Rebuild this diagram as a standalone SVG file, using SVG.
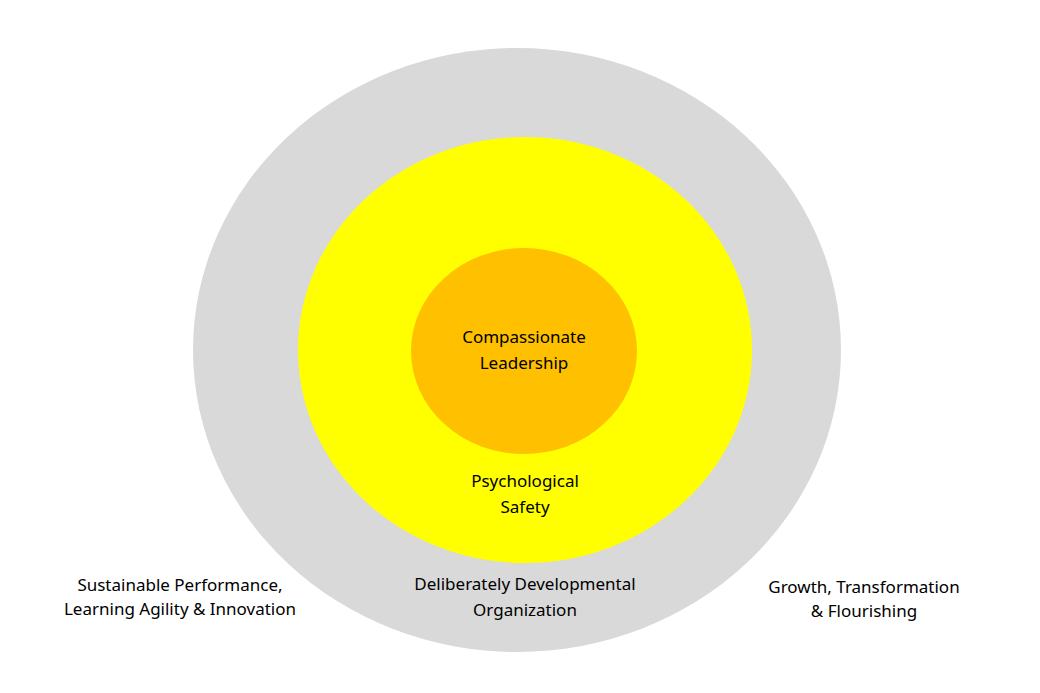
<svg xmlns="http://www.w3.org/2000/svg" width="1040" height="693" viewBox="0 0 1040 693">
<style>
text{font-family:"Noto Sans","Open Sans",sans-serif;font-size:17px;fill:#000;text-anchor:middle}
</style>
<rect width="1040" height="693" fill="#fff"/>
<g id="outer"><ellipse cx="517" cy="350" rx="324" ry="302" fill="#d9d9d9"/>
<text x="525" y="590">Deliberately Developmental</text><text x="525" y="616">Organization</text></g>
<g id="middle"><ellipse cx="525" cy="350" rx="227" ry="213" fill="#ffff00"/>
<text x="525" y="487">Psychological</text><text x="525" y="513">Safety</text></g>
<g id="inner"><ellipse cx="524" cy="351" rx="113" ry="103" fill="#ffc000"/>
<text x="524" y="343">Compassionate</text><text x="524" y="369">Leadership</text></g>
<g id="left"><text x="180" y="591">Sustainable Performance,</text><text x="180" y="615">Learning Agility &amp; Innovation</text></g>
<g id="right"><text x="864" y="593">Growth, Transformation</text><text x="864" y="617">&amp; Flourishing</text></g>
<g id="connectors"/>
</svg>
